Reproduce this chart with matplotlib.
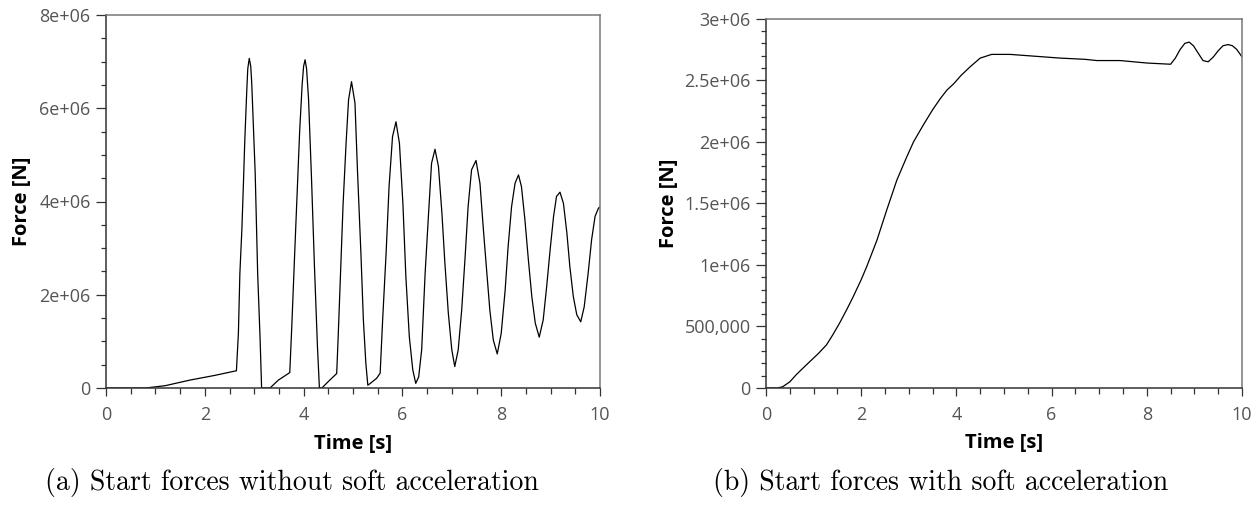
import numpy as np
import matplotlib
matplotlib.use("Agg")
import matplotlib.pyplot as plt
from matplotlib.ticker import MultipleLocator, FixedLocator

# (a) start force without soft acceleration, time [s] / force [MN]
time_a = [0.0, 0.8, 1.2, 1.7, 2.2, 2.64,
          2.68, 2.71, 2.75, 2.78, 2.81, 2.85, 2.87, 2.90, 2.93, 2.95, 3.02, 3.07, 3.12, 3.15,
          3.32, 3.49, 3.72,
          3.76, 3.82, 3.87, 3.92, 3.97, 4.00, 4.03, 4.06, 4.10, 4.16, 4.22, 4.28, 4.32,
          4.37, 4.53, 4.67,
          4.70, 4.75, 4.80, 4.86, 4.91, 4.97, 5.04, 5.09, 5.16, 5.21, 5.26, 5.30,
          5.34, 5.48, 5.55,
          5.60, 5.67, 5.73, 5.80, 5.87, 5.94, 6.01, 6.07, 6.14, 6.21, 6.27,
          6.33, 6.39, 6.46, 6.53, 6.59, 6.66, 6.73, 6.80, 6.86, 6.93, 7.00, 7.06,
          7.13, 7.20, 7.27, 7.33, 7.40, 7.49, 7.57, 7.64, 7.71, 7.77, 7.84, 7.92,
          8.00, 8.08, 8.14, 8.21, 8.28, 8.35, 8.41, 8.48, 8.55, 8.62, 8.69, 8.77,
          8.85, 8.92, 8.99, 9.06, 9.12, 9.19, 9.26, 9.33, 9.39, 9.46, 9.53, 9.61,
          9.68, 9.76, 9.83, 9.90, 9.97, 10.0]
force_a = [0.0, 0.0, 0.05, 0.17, 0.27, 0.37,
           1.17, 2.46, 3.39, 4.32, 5.32, 6.39, 6.85, 7.07, 6.90, 6.54, 4.61, 2.46, 1.03, 0.0,
           0.0, 0.17, 0.33,
           1.30, 2.90, 4.20, 5.50, 6.50, 6.90, 7.04, 6.85, 6.20, 4.50, 2.60, 0.90, 0.0,
           0.0, 0.17, 0.31,
           1.10, 2.53, 3.96, 5.25, 6.18, 6.57, 6.11, 4.68, 2.89, 1.46, 0.53, 0.06,
           0.09, 0.21, 0.32,
           1.46, 2.89, 4.32, 5.39, 5.71, 5.25, 3.96, 2.39, 1.10, 0.39, 0.10,
           0.24, 0.82, 2.46, 3.75, 4.82, 5.12, 4.75, 3.75, 2.68, 1.60, 0.82, 0.46,
           0.82, 1.67, 2.82, 3.89, 4.68, 4.88, 4.39, 3.39, 2.46, 1.67, 1.03, 0.73,
           1.17, 2.10, 3.03, 3.89, 4.39, 4.57, 4.32, 3.61, 2.75, 1.96, 1.39, 1.09,
           1.46, 2.17, 2.96, 3.68, 4.11, 4.20, 3.96, 3.32, 2.60, 1.96, 1.57, 1.42,
           1.74, 2.46, 3.18, 3.68, 3.86, 3.88]

# (b) start force with soft acceleration
time_b = [0.0, 0.24, 0.35, 0.50, 0.64, 0.80, 0.99, 1.10, 1.27, 1.40, 1.55, 1.70, 1.83,
          2.00, 2.12, 2.33, 2.54, 2.75, 2.96, 3.10, 3.31, 3.50, 3.66, 3.80, 3.94, 4.10,
          4.29, 4.50, 4.74, 5.13, 5.83, 6.18, 6.70, 6.95, 7.44, 8.00,
          8.50, 8.60, 8.70, 8.80, 8.89, 8.98, 9.08, 9.18, 9.29, 9.40, 9.50, 9.60, 9.71,
          9.80, 9.89, 10.0]
force_b = [0.0, 0.0, 0.01, 0.05, 0.11, 0.17, 0.24, 0.28, 0.35, 0.43, 0.53, 0.64, 0.74,
           0.88, 0.99, 1.20, 1.45, 1.69, 1.88, 2.00, 2.14, 2.26, 2.35, 2.42, 2.47, 2.54,
           2.61, 2.68, 2.71, 2.71, 2.69, 2.68, 2.67, 2.66, 2.66, 2.64,
           2.63, 2.68, 2.75, 2.80, 2.81, 2.78, 2.72, 2.66, 2.65, 2.69, 2.74, 2.78, 2.79,
           2.78, 2.75, 2.69]

yticks_a = [0, 2e6, 4e6, 6e6, 8e6]
ylabels_a = ["0", "2e+06", "4e+06", "6e+06", "8e+06"]
yticks_b = [0, 5e5, 1e6, 1.5e6, 2e6, 2.5e6, 3e6]
ylabels_b = ["0", "500,000", "1e+06", "1.5e+06", "2e+06", "2.5e+06", "3e+06"]
xticks = [0, 2, 4, 6, 8, 10]
captions = ["(a) Start forces without soft acceleration",
            "(b) Start forces with soft acceleration"]

plt.rcParams['font.family'] = ['Open Sans', 'DejaVu Sans']

fig = plt.figure(figsize=(12.6, 5.05), dpi=100)
W, H = 1260.0, 505.0

def setup(ax, yticks, ylabels, ymax, yminor, ylab_x):
    ax.set_xlim(0, 10)
    ax.set_ylim(0, ymax)
    ax.xaxis.set_major_locator(FixedLocator(xticks))
    ax.set_xticklabels([str(v) for v in xticks])
    ax.xaxis.set_minor_locator(MultipleLocator(0.5))
    ax.yaxis.set_major_locator(FixedLocator(yticks))
    ax.set_yticklabels(ylabels)
    ax.yaxis.set_minor_locator(MultipleLocator(yminor))
    ax.tick_params(axis='y', which='major', length=7, width=0.9, pad=4,
                   color='#333333', labelcolor='#555555', labelsize=13)
    ax.tick_params(axis='y', which='minor', length=3.5, width=0.9, color='#333333')
    ax.tick_params(axis='x', which='major', length=6, width=0.9, pad=7,
                   color='#333333', labelcolor='#555555', labelsize=13)
    ax.tick_params(axis='x', which='minor', length=4, width=0.9, color='#333333')
    for s in ['left', 'bottom']:
        ax.spines[s].set_color('#333333')
        ax.spines[s].set_linewidth(1.1)
    for s in ['top', 'right']:
        ax.spines[s].set_color('#777777')
        ax.spines[s].set_linewidth(1.1)
    ax.set_xlabel("Time [s]", fontsize=14.5, fontweight='bold', color='black')
    ax.set_ylabel("Force [N]", fontsize=14.5, fontweight='bold', color='black')
    ax.xaxis.set_label_coords(0.5, -0.122)
    ax.yaxis.set_label_coords(ylab_x, 0.5)

ax1 = fig.add_axes([106 / W, 117 / H, 494 / W, 373 / H])
ax1.plot(time_a, np.array(force_a) * 1e6, color='black', lw=0.9)
setup(ax1, yticks_a, ylabels_a, 8e6, 5e5, -0.15)

ax2 = fig.add_axes([766 / W, 117 / H, 476 / W, 369.3 / H])
ax2.plot(time_b, np.array(force_b) * 1e6, color='black', lw=0.9)
setup(ax2, yticks_b, ylabels_b, 3e6, 1e5, -0.182)

fig.text(45 / W, 1 - 490 / H, captions[0], fontsize=20, family='cmr10',
         ha='left', va='baseline')
fig.text(713 / W, 1 - 490 / H, captions[1], fontsize=20, family='cmr10',
         ha='left', va='baseline')

fig.savefig("out.png", dpi=100)
